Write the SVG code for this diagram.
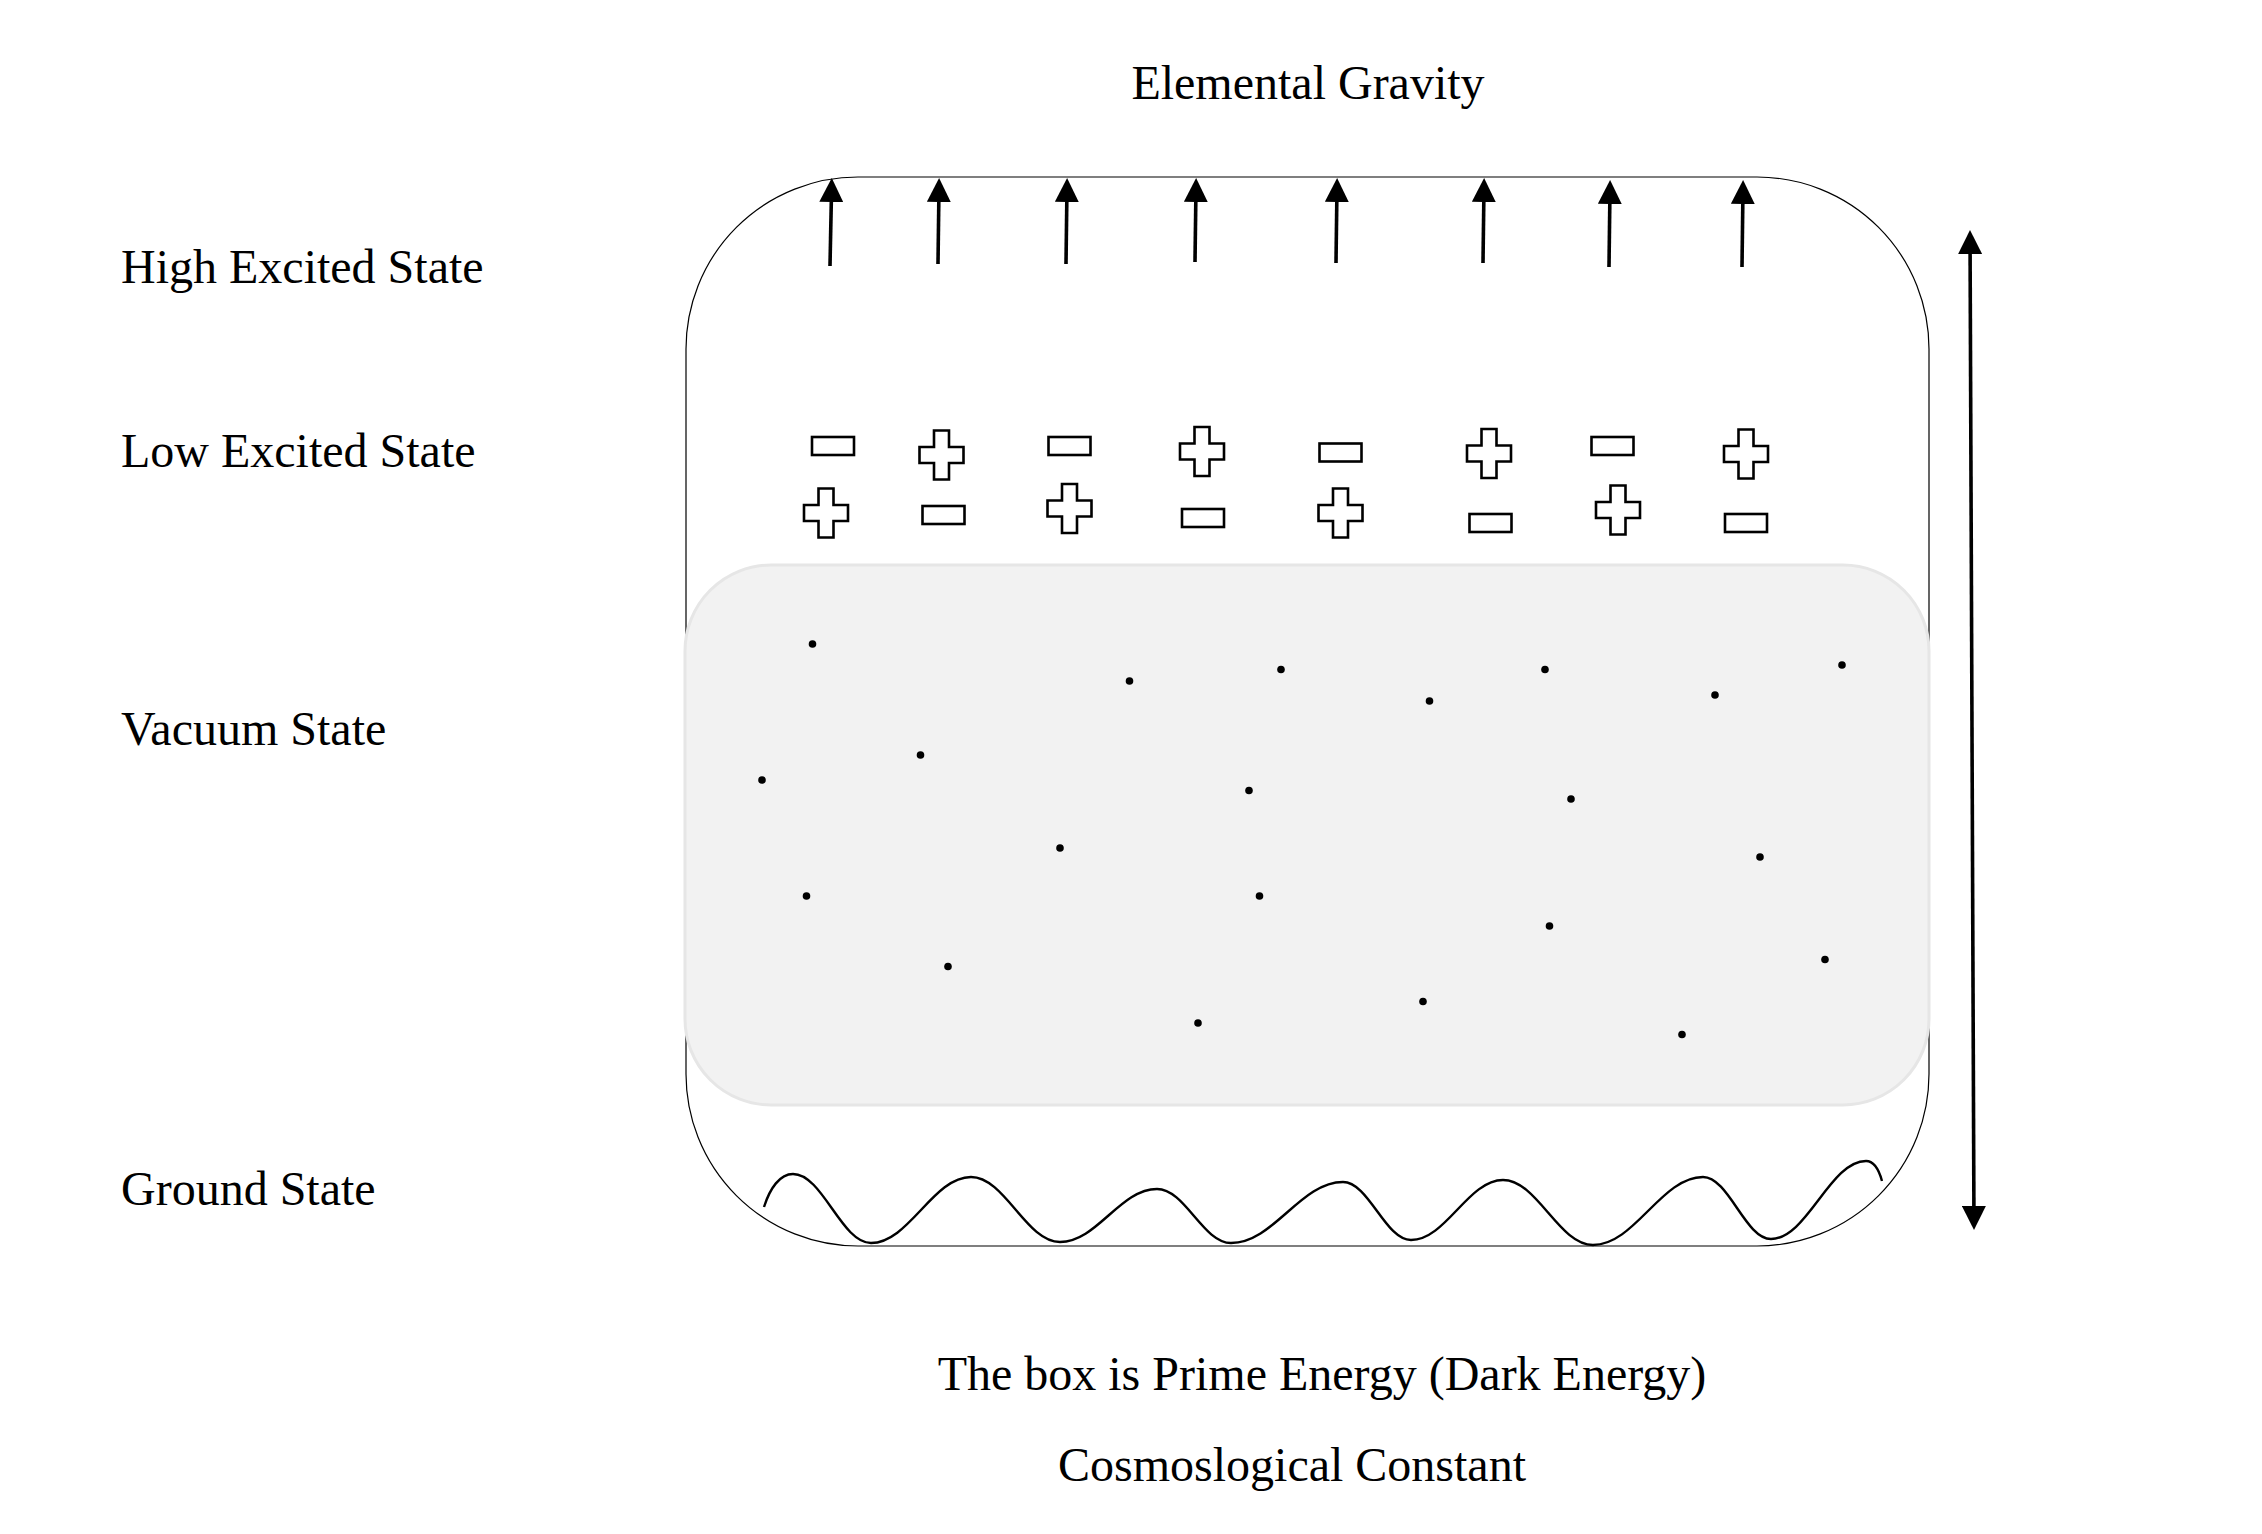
<svg xmlns="http://www.w3.org/2000/svg" xmlns:xlink="http://www.w3.org/1999/xlink" width="2262" height="1534" viewBox="0 0 2262 1534">
<style>
.lbl{font-family:"Liberation Serif","Times New Roman",serif;font-size:48px;fill:#000}
.mid{text-anchor:middle}
.chg{fill:#fff;stroke:#000;stroke-width:2.6}
.dot{fill:#000}
.arr{stroke:#000;stroke-width:3.6;fill:none}
</style>
<defs>
<marker id="ah" viewBox="0 0 24 24" refX="0" refY="12" markerWidth="24" markerHeight="24" markerUnits="userSpaceOnUse" orient="auto-start-reverse">
<path d="M0,0 L24,12 L0,24 z" fill="#000"/>
</marker>
<path id="plus" class="chg" d="M-7.5,-24.5 H7.5 V-8 H22 V8 H7.5 V24.5 H-7.5 V8 H-22 V-8 H-7.5 z"/>
<rect id="minus" class="chg" x="-21" y="-9" width="42" height="18"/>
</defs>
<rect width="2262" height="1534" fill="#fff"/>

<g id="box">
<rect x="686" y="177" width="1243" height="1069" rx="172" ry="172" fill="#fff" stroke="#000" stroke-width="1.2"/>
</g>

<g id="vacuum-region">
<rect x="685" y="565" width="1244" height="540" rx="86" ry="86" fill="#f2f2f2" stroke="#e6e6e6" stroke-width="3"/>
<circle class="dot" cx="812.5" cy="644" r="3.8"/>
<circle class="dot" cx="1129.5" cy="681" r="3.8"/>
<circle class="dot" cx="1281" cy="669.5" r="3.8"/>
<circle class="dot" cx="1429.5" cy="701" r="3.8"/>
<circle class="dot" cx="1545" cy="669.5" r="3.8"/>
<circle class="dot" cx="1715" cy="695" r="3.8"/>
<circle class="dot" cx="1842" cy="665" r="3.8"/>
<circle class="dot" cx="762" cy="780" r="3.8"/>
<circle class="dot" cx="920.5" cy="755" r="3.8"/>
<circle class="dot" cx="1249" cy="790.5" r="3.8"/>
<circle class="dot" cx="1571" cy="799" r="3.8"/>
<circle class="dot" cx="1060" cy="848" r="3.8"/>
<circle class="dot" cx="1760" cy="857" r="3.8"/>
<circle class="dot" cx="806.5" cy="896" r="3.8"/>
<circle class="dot" cx="1259.5" cy="896" r="3.8"/>
<circle class="dot" cx="1549.5" cy="926" r="3.8"/>
<circle class="dot" cx="948" cy="966.5" r="3.8"/>
<circle class="dot" cx="1825" cy="959.5" r="3.8"/>
<circle class="dot" cx="1198" cy="1023" r="3.8"/>
<circle class="dot" cx="1423" cy="1001.5" r="3.8"/>
<circle class="dot" cx="1682" cy="1034.5" r="3.8"/>
</g>

<g id="charges">
<use xlink:href="#minus" x="833" y="446"/>
<use xlink:href="#plus" x="941.5" y="455"/>
<use xlink:href="#minus" x="1069.5" y="446"/>
<use xlink:href="#plus" x="1202" y="451.5"/>
<use xlink:href="#minus" x="1340.5" y="452.5"/>
<use xlink:href="#plus" x="1489" y="453.5"/>
<use xlink:href="#minus" x="1612.5" y="446"/>
<use xlink:href="#plus" x="1746" y="454"/>
<use xlink:href="#plus" x="826" y="513"/>
<use xlink:href="#minus" x="943.5" y="515"/>
<use xlink:href="#plus" x="1069.5" y="508.5"/>
<use xlink:href="#minus" x="1203" y="518"/>
<use xlink:href="#plus" x="1340.5" y="513"/>
<use xlink:href="#minus" x="1490.5" y="523"/>
<use xlink:href="#plus" x="1618" y="510"/>
<use xlink:href="#minus" x="1746" y="523"/>
</g>

<g id="ground-wave">
<path fill="none" stroke="#000" stroke-width="2.4" d="M764,1207 C770,1188 780,1174 793,1174 C822.6,1174 841.4,1243 871,1243 C909,1243 933,1177 971,1177 C1004.8,1177 1026.2,1242 1060,1242 C1096.9,1242 1120.1,1189 1157,1189 C1185.1,1189 1202.9,1243 1231,1243 C1273.6,1243 1300.4,1182 1343,1182 C1368.8,1182 1385.2,1240 1411,1240 C1446,1240 1468,1180 1503,1180 C1537.2,1180 1558.8,1245 1593,1245 C1634.8,1245 1661.2,1177 1703,1177 C1728.8,1177 1745.2,1239 1771,1239 C1807.1,1239 1829.9,1161 1866,1161 C1874,1161 1879,1170 1882,1181"/>
</g>

<g id="connectors">
<line class="arr" x1="830" y1="266" x2="831.3" y2="202" marker-end="url(#ah)"/>
<line class="arr" x1="938" y1="264" x2="938.8" y2="202" marker-end="url(#ah)"/>
<line class="arr" x1="1066" y1="264" x2="1066.8" y2="202" marker-end="url(#ah)"/>
<line class="arr" x1="1195" y1="262" x2="1195.8" y2="202" marker-end="url(#ah)"/>
<line class="arr" x1="1336" y1="263" x2="1336.8" y2="202" marker-end="url(#ah)"/>
<line class="arr" x1="1483" y1="263" x2="1483.8" y2="202" marker-end="url(#ah)"/>
<line class="arr" x1="1609" y1="267" x2="1609.8" y2="204" marker-end="url(#ah)"/>
<line class="arr" x1="1742" y1="267" x2="1742.8" y2="204" marker-end="url(#ah)"/>
<line class="arr" x1="1970.1" y1="254" x2="1973.9" y2="1206" marker-start="url(#ah)" marker-end="url(#ah)"/>
</g>

<g id="labels">
<text class="lbl mid" x="1308" y="98.5">Elemental Gravity</text>
<text class="lbl" x="121" y="283">High Excited State</text>
<text class="lbl" x="121" y="467">Low Excited State</text>
<text class="lbl" x="121" y="745">Vacuum State</text>
<text class="lbl" x="121" y="1205">Ground State</text>
<text class="lbl mid" x="1322" y="1389.5">The box is Prime Energy (Dark Energy)</text>
<text class="lbl mid" x="1292" y="1481">Cosmoslogical Constant</text>
</g>
</svg>
